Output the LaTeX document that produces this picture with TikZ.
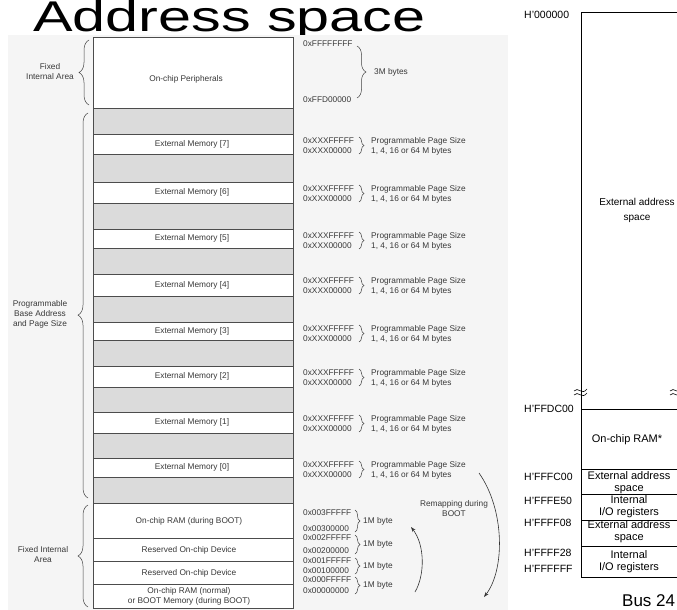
\documentclass[tikz,border=0pt]{standalone}
\usepackage{graphicx}
\usepackage{fontspec}
\setmainfont{Liberation Sans}
\usetikzlibrary{decorations.pathreplacing,arrows.meta}
\begin{document}
\begin{tikzpicture}[x=1pt,y=-1pt,
  lbl/.style={font=\fontsize{8.3}{10}\selectfont, text=black!78, inner sep=0pt},
  addr/.style={lbl, anchor=west},
  cell/.style={draw=black!70, line width=0.7pt, fill=white},
  gcell/.style={draw=black!70, line width=0.7pt, fill=black!14},
  brc/.style={decorate, decoration={brace, amplitude=#1pt}, draw=black!75, line width=0.5pt},
  rline/.style={draw=black, line width=0.9pt},
  rlbl/.style={font=\fontsize{10.5}{12}\selectfont, inner sep=0pt, anchor=west},
  rtxt/.style={font=\fontsize{11}{12}\selectfont, inner sep=0pt, align=center},
  arr/.style={draw=black!80, line width=0.6pt, -{Stealth[length=5pt,width=3.5pt]}}
]
\useasboundingbox (0,0) rectangle (677,610);
\clip (0,0) rectangle (677,610);

% title
\node[anchor=base west, inner sep=0pt, font=\fontsize{43}{43}\selectfont] (title) at (33,31.5) {\scalebox{1.38}[1]{Address space}};

% left panel background
\fill[black!4] (8,35) rectangle (508,610);

% top fixed area
\draw[cell] (93,37) rectangle (293,108);
\node[lbl] (periph) at (186,79) {On-chip Peripherals};
\node[addr] (aFFFF) at (303,44) {0xFFFFFFFF};
\node[addr] (aFFD) at (303,100) {0xFFD00000};
\draw[brc=9] (357,46) -- (357,98);
\node[addr] (m3) at (374,72) {3M bytes};

% gray (unused) cells
\foreach \t/\b in {108/134,154/182,203/229,248/274,296/322,340/366,387/412,433/458,477/503}
  \draw[gcell] (93,\t) rectangle (293,\b);

% external memory pages
\foreach \k/\t/\b in {7/134/154,6/182/203,5/229/248,4/274/296,3/322/340,2/366/387,1/412/433,0/458/477} {
  \draw[cell] (93,\t) rectangle (293,\b);
  \node[lbl] (em\k) at (192,{(\t+\b)/2}) {External Memory [\k]};
  \node[addr] (hi\k) at (303,\t+7) {0xXXXFFFFF};
  \node[addr] (lo\k) at (303,\t+17) {0xXXX00000};
  \draw[brc=5] (359,\t+3) -- (359,\t+20);
  \node[addr, align=left] (pg\k) at (371,\t+12) {Programmable Page Size\\1, 4, 16 or 64 M bytes};
}

% bottom fixed internal area
\draw[cell] (93,503) rectangle (293,538);
\draw[cell] (93,538) rectangle (293,561);
\draw[cell] (93,561) rectangle (293,584);
\draw[cell] (93,584) rectangle (293,608);
\node[lbl] (rboot) at (189,521) {On-chip RAM (during BOOT)};
\node[lbl] (res2) at (189,550) {Reserved On-chip Device};
\node[lbl] (res1) at (189,573) {Reserved On-chip Device};
\node[lbl, align=center] (rnorm) at (189,596) {On-chip RAM (normal)\\or BOOT Memory (during BOOT)};

\foreach \i/\h/\hl/\l/\ll in {3/513/0x003FFFFF/529/0x00300000,2/538/0x002FFFFF/551/0x00200000,1/561/0x001FFFFF/571/0x00100000,0/580/0x000FFFFF/591/0x00000000} {
  \node[addr] (bh\i) at (303,\h) {\hl};
  \node[addr] (bl\i) at (303,\l) {\ll};
  \draw[brc=5] (355,\h-3) -- (355,\l+3);
  \node[addr] (mb\i) at (363,{(\h+\l)/2}) {1M byte};
}

% left braces
\draw[brc=10] (89,105) -- (89,40);
\node[lbl, align=center] (fixtop) at (50,72) {Fixed\\Internal Area};
\draw[brc=10, decoration={brace, amplitude=10pt, aspect=0.475}] (88,498) -- (88,113);
\node[lbl, align=center] (prog) at (40,314) {Programmable\\Base Address\\and Page Size};
\draw[brc=10] (88,607) -- (88,505);
\node[lbl, align=center] (fixbot) at (43,555) {Fixed Internal\\Area};

% remapping
\node[lbl, align=center] (remap) at (454,509) {Remapping during\\BOOT};
\coordinate (bigA) at (479,473);
\coordinate (bigB) at (484,597);
\draw[arr] (bigA) .. controls (505,510) and (505,570) .. (bigB);
\coordinate (smA) at (415,592);
\coordinate (smB) at (411,527);
\draw[arr] (smA) .. controls (425,575) and (425,545) .. (smB);

% right panel
\draw[rline] (681,12) -- (581,12) -- (581,577) -- (681,577);
\foreach \y in {409,469,494,520,546}
  \draw[rline] (581,\y) -- (681,\y);
\foreach \x in {574,670}
  \foreach \dy in {0,4}
    \draw[line width=0.6pt] (\x,391+\dy) .. controls (\x+4,386+\dy) and (\x+8,396+\dy) .. (\x+13,389+\dy);

\node[rlbl] (h0) at (524,15) {H'000000};
\node[rlbl] (h1) at (524,409) {H'FFDC00};
\node[rlbl] (h2) at (524,477) {H'FFFC00};
\node[rlbl] (h3) at (524,501) {H'FFFE50};
\node[rlbl] (h4) at (524,523) {H'FFFF08};
\node[rlbl] (h5) at (524,553) {H'FFFF28};
\node[rlbl] (h6) at (524,569) {H'FFFFFF};

\node[rtxt, font=\fontsize{10}{15}\selectfont] (ext0) at (637,210) {External address\\space};
\node[rtxt] (ram) at (627,440) {On-chip RAM*};
\node[rtxt] (ext1) at (629,483) {External address\\space};
\node[rtxt] (io1) at (629,507) {Internal\\I/O registers};
\node[rtxt] (ext2) at (629,532) {External address\\space};
\node[rtxt] (io2) at (629,562) {Internal\\I/O registers};

\node[anchor=base west, inner sep=0pt, font=\fontsize{17}{17}\selectfont] (bus) at (622,606) {Bus 24};
\end{tikzpicture}
\end{document}
